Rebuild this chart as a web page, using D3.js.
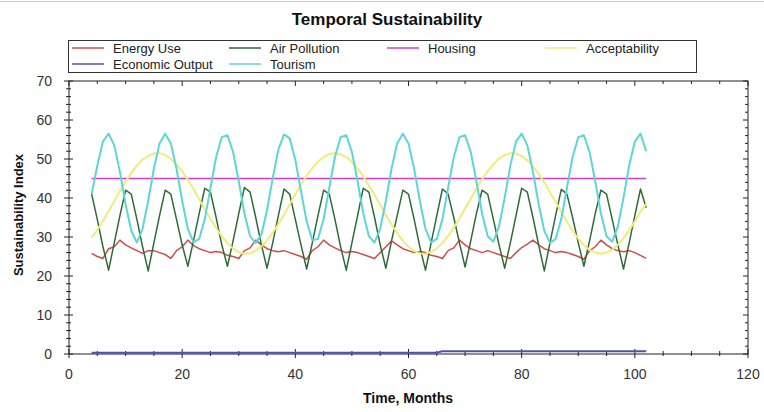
<!DOCTYPE html>
<meta charset="utf-8">
<body style="margin:0;background:#fff">
<div id="chart"></div>
<script src="https://d3js.org/d3.v7.min.js"></script>
<script>
// ——— data, one value per month (4..102) ———
const months = d3.range(4, 103);

const energyUse = [25.8,25,24.5,27,27.5,29.2,28,27.2,26.5,25.8,
  26.5,26.5,26,25.5,24.5,26.5,27.5,29.2,27.8,27,
  26.5,26,26.3,26,25.3,25,24.5,26.5,27.2,29.2,
  28,27,26.5,26.2,26.5,26,25.5,25,24.3,26.5,
  27.5,29.2,28,27.2,26.5,26,26.3,26,25.5,25,
  24.5,26,27.5,29,28,27,26.5,26,26.3,26,
  25.3,25,24.5,26.5,27.2,29.2,28,27,26.5,26,
  26.5,26,25.5,25,24.5,26,27.3,28.2,29.2,28,
  27,26.5,26,26.3,26,25.5,25,24.3,26.5,27.5,
  29.2,28,27,26.5,26.2,26.5,26,25.3,24.5];

const airPollution = [41,34.5,27.5,21.5,28.5,35.5,
  42,41,34.5,27.5,21.3,28.5,35.5,
  42,41,34.5,28,22.5,29,36,
  42.5,41.5,35,28,22.5,29,36,
  42.7,41.5,35,28,22,28.5,35.5,
  42.3,41,34.5,28,21.8,28.5,35.5,
  42,41,34.5,27.5,21.5,28.5,35.5,
  42.5,41.5,35,28,22,29,35.5,
  42,41,34.5,27.5,21.5,28.5,35.5,
  42.3,41,35,28.5,22.3,29,36,
  42,41,34.5,28,22,28.5,35.5,
  42.5,41.5,35,28,21.3,28.5,35.5,
  42.2,41,35,28.5,22.5,29,36,
  42,41,34.5,28,21.8,28.5,35.5,
  42.3,37.5];

const housing = [45,45,45,45,45,45,45,45,45,45,45,45,45,45,45,45,45,45,45,45,
  45,45,45,45,45,45,45,45,45,45,45,45,45,45,45,45,45,45,45,45,
  45,45,45,45,45,45,45,45,45,45,45,45,45,45,45,45,45,45,45,45,
  45,45,45,45,45,45,45,45,45,45,45,45,45,45,45,45,45,45,45,45,
  45,45,45,45,45,45,45,45,45,45,45,45,45,45,45,45,45,45,45];

const acceptability = [29.8,31.8,34.1,36.6,39.2,41.8,44.2,46.4,48.3,49.8,
  50.8,51.4,51.5,51,50,48.6,46.8,44.7,42.3,39.7,
  37.2,34.6,32.3,30.2,28.4,27,26.1,25.7,25.8,26.5,
  27.6,29.1,31.1,33.3,35.7,38.3,40.9,43.4,45.7,47.7,
  49.3,50.5,51.3,51.5,51.2,50.5,49.2,47.6,45.6,43.2,
  40.8,38.2,35.6,33.2,31,29,27.5,26.4,25.8,25.7,
  26.2,27.1,28.5,30.2,32.4,34.7,37.3,39.9,42.4,44.8,
  46.9,48.7,50.1,51,51.5,51.4,50.8,49.7,48.1,46.2,
  44,41.5,39,36.4,33.9,31.6,29.6,27.9,26.7,26,
  25.7,26,26.7,28,29.7,31.7,34,36.5,38.5];

const economicOutput = [0.35,0.35,0.35,0.35,0.35,0.35,0.35,0.35,0.35,0.35,
  0.35,0.35,0.35,0.35,0.35,0.35,0.35,0.35,0.35,0.35,
  0.35,0.35,0.35,0.35,0.35,0.35,0.35,0.35,0.35,0.35,
  0.35,0.35,0.35,0.35,0.35,0.35,0.35,0.35,0.35,0.35,
  0.35,0.35,0.35,0.35,0.35,0.35,0.35,0.35,0.35,0.35,
  0.35,0.35,0.35,0.35,0.35,0.35,0.35,0.35,0.35,0.35,
  0.35,0.35,
  0.7,0.7,0.7,0.7,0.7,0.7,0.7,0.7,0.7,0.7,
  0.7,0.7,0.7,0.7,0.7,0.7,0.7,0.7,0.7,0.7,
  0.7,0.7,0.7,0.7,0.7,0.7,0.7,0.7,0.7,0.7,
  0.7,0.7,0.7,0.7,0.7,0.7,0.7];

const tourism = [41,48.3,54.5,56.5,53.5,46.7,38.4,31.6,28.6,32.1,
  39.3,47.5,54,56.5,54,47.5,39.3,32.1,28.6,29.5,
  34.6,42.6,50.5,55.6,56.1,51.8,44.3,36.1,30.2,28.5,
  30.6,36.9,45.1,52.4,56.3,55.3,49.8,41.7,34,29.2,
  29.5,34.6,42.6,50.5,55.6,56.1,51.8,44.3,36.1,30.2,
  28.6,32.1,39.3,47.5,54,56.5,54,47.5,39.3,32.1,
  28.6,29.5,34.6,42.6,50.5,55.6,56.1,51.8,44.3,36.1,
  30.2,28.8,32.7,40.1,48.3,54.5,56.5,53.5,46.7,38.4,
  31.6,28.5,29.5,34.6,42.6,50.5,55.6,56.1,51.8,44.3,
  36.1,30.2,28.8,32.7,40.1,48.3,54.5,56.5,52];

const seriesNames = ["Energy Use", "Air Pollution", "Housing", "Acceptability", "Economic Output", "Tourism"];
const seriesValues = [energyUse, airPollution, housing, acceptability, economicOutput, tourism];
const seriesColors = ["#d24a4a", "#2f6b38", "#d23cd2", "#eeec7a", "#5050b4", "#5ed6d6"];
const seriesWidths = [1.5, 1.5, 1.5, 2, 2, 2];

// ——— layout ———
const W = 764, H = 412;
const x = d3.scaleLinear().domain([0, 120]).range([69, 748]);
const y = d3.scaleLinear().domain([0, 70]).range([354, 81]);

const svg = d3.select("#chart").append("svg")
    .attr("width", W).attr("height", H)
    .style("font-family", "Liberation Sans, Arial, sans-serif");

svg.append("line").attr("x1", 0).attr("x2", W).attr("y1", 1.5).attr("y2", 1.5)
  .attr("stroke", "#ccc");

svg.append("text")
  .attr("x", 387).attr("y", 25)
  .attr("text-anchor", "middle")
  .attr("font-size", 17).attr("font-weight", "bold").attr("fill", "#111")
  .text("Temporal Sustainability");

// ——— frame + axes ———
svg.append("rect")
  .attr("x", x(0)).attr("y", y(70))
  .attr("width", x(120) - x(0)).attr("height", y(0) - y(70))
  .attr("fill", "none").attr("stroke", "#222");

// left axis: crossing ticks
svg.append("g").selectAll("line")
  .data(d3.range(0, 71, 2))
  .join("line")
    .attr("x1", d => x(0) - (d % 10 === 0 ? 5 : 3))
    .attr("x2", d => x(0) + (d % 10 === 0 ? 4 : 2))
    .attr("y1", d => y(d)).attr("y2", d => y(d))
    .attr("stroke", "#222");
// right border ticks (inside)
svg.append("g").selectAll("line")
  .data(d3.range(0, 71, 2))
  .join("line")
    .attr("x1", x(120))
    .attr("x2", d => x(120) - (d % 10 === 0 ? 5 : 3))
    .attr("y1", d => y(d)).attr("y2", d => y(d))
    .attr("stroke", "#222");
// bottom axis: crossing ticks
svg.append("g").selectAll("line")
  .data(d3.range(0, 121, 5))
  .join("line")
    .attr("x1", d => x(d)).attr("x2", d => x(d))
    .attr("y1", d => y(0) - (d % 20 === 0 ? 5 : 3))
    .attr("y2", d => y(0) + (d % 20 === 0 ? 4 : 2))
    .attr("stroke", "#222");
// top border ticks (inside)
svg.append("g").selectAll("line")
  .data(d3.range(0, 121, 5))
  .join("line")
    .attr("x1", d => x(d)).attr("x2", d => x(d))
    .attr("y1", y(70))
    .attr("y2", d => y(70) + (d % 20 === 0 ? 5 : 3))
    .attr("stroke", "#222");

svg.append("g").selectAll("text")
  .data(d3.range(0, 71, 10))
  .join("text")
    .attr("x", 52).attr("y", d => y(d) + 5)
    .attr("text-anchor", "end")
    .attr("font-size", 14).attr("fill", "#333")
    .text(d => d);

svg.append("g").selectAll("text")
  .data(d3.range(0, 121, 20))
  .join("text")
    .attr("x", d => x(d)).attr("y", 379)
    .attr("text-anchor", "middle")
    .attr("font-size", 14).attr("fill", "#333")
    .text(d => d);

svg.append("text")
  .attr("x", 408).attr("y", 403)
  .attr("text-anchor", "middle")
  .attr("font-size", 14).attr("font-weight", "bold").attr("fill", "#111")
  .text("Time, Months");

svg.append("text")
  .attr("transform", "translate(23,215) rotate(-90)")
  .attr("text-anchor", "middle")
  .attr("font-size", 13).attr("font-weight", "bold").attr("fill", "#111")
  .text("Sustainability Index");

// ——— lines ———
const line = d3.line()
  .x((d, i) => x(months[i]))
  .y(d => y(d));

svg.append("g").selectAll("path")
  .data(seriesValues)
  .join("path")
    .attr("d", line)
    .attr("fill", "none")
    .attr("stroke", (d, i) => seriesColors[i])
    .attr("stroke-width", (d, i) => seriesWidths[i])
    .attr("stroke-linejoin", "round");

// ——— legend ———
svg.append("rect")
  .attr("x", 68.5).attr("y", 40.5).attr("width", 628).attr("height", 32)
  .attr("fill", "#fff").attr("stroke", "#333");

const colX = [72, 229, 387, 545];
const leg = svg.append("g").selectAll("g")
  .data(seriesNames)
  .join("g")
    .attr("transform", (d, i) => `translate(${colX[i % 4]},${i < 4 ? 48 : 64})`);
leg.append("line")
  .attr("x1", 0).attr("x2", 32)
  .attr("stroke", (d, i) => seriesColors[i])
  .attr("stroke-width", 1.5);
leg.append("text")
  .attr("x", 41).attr("y", 4.5)
  .attr("font-size", 13).attr("fill", "#222")
  .text(d => d);
</script>
</body>
